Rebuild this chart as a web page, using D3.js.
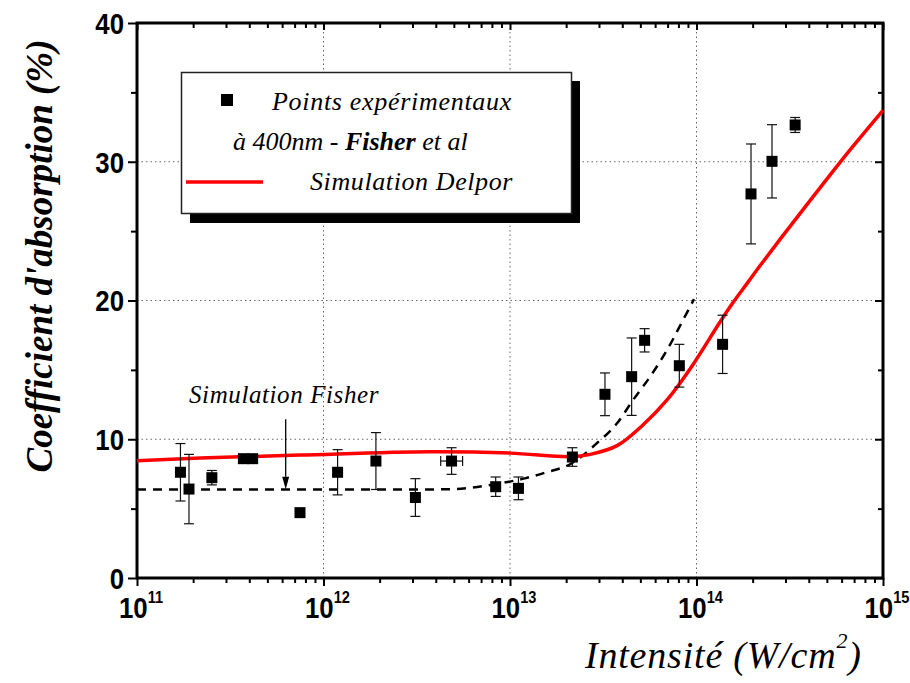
<!DOCTYPE html>
<html>
<head>
<meta charset="utf-8">
<script src="https://cdn.jsdelivr.net/npm/d3@7/dist/d3.min.js"></script>
<style>
  html, body { margin: 0; padding: 0; background: #fff; }
  svg { display: block; }
  .serif { font-family: "Liberation Serif", "DejaVu Serif", serif; font-style: italic; }
  .tick-lab { font-family: "Liberation Sans", Arial, sans-serif; font-weight: bold; }
</style>
</head>
<body>
<svg id="chart" width="910" height="683"></svg>
<script>
// Measured absorption (Fisher et al, 400 nm)
const intensity = [1.71e11, 1.90e11, 2.52e11, 3.72e11, 4.17e11, 7.48e11, 1.19e12, 1.91e12, 3.11e12, 4.86e12, 8.38e12, 1.11e13, 2.16e13, 3.23e13, 4.49e13, 5.27e13, 8.09e13, 1.38e14, 1.96e14, 2.54e14, 3.38e14];
const absorption = [7.62, 6.41, 7.23, 8.6, 8.6, 4.71, 7.62, 8.43, 5.80, 8.43, 6.58, 6.46, 8.72, 13.24, 14.51, 17.13, 15.30, 16.84, 27.68, 30.03, 32.65];
const absorptionErr = [2.07, 2.5, 0.52, 0, 0, 0, 1.63, 2.05, 1.36, 0.96, 0.7, 0.82, 0.67, 1.54, 2.79, 0.84, 1.54, 2.1, 3.6, 2.64, 0.54];
const intensityErrLow = [null, null, null, null, null, null, null, null, null, 4.25e12, null, null, null, null, null, null, null, null, null, null, null];
const intensityErrHigh = [null, null, null, null, null, null, null, null, null, 5.57e12, null, null, null, null, null, null, null, null, null, null, null];

// Delpor simulation
const delporIntensity = [1e11, 2.18e11, 7.48e11, 3.72e12, 1e13, 2.10e13, 2.69e13, 3.75e13, 5.16e13, 6.95e13, 9.23e13, 1.337e14, 1.57e14, 1.86e14, 2.19e14, 2.81e14, 4.23e14, 6.12e14, 1e15];
const delporAbs = [8.45, 8.65, 8.86, 9.1, 9.0, 8.74, 8.91, 9.54, 11.03, 12.83, 15.06, 18.45, 19.85, 21.2, 22.5, 24.42, 27.5, 30.25, 33.7];

// Fisher simulation
const fisherIntensity = [1e11, 7.48e11, 4.76e12, 6.11e12, 8.83e12, 1.20e13, 1.54e13, 2.10e13, 2.92e13, 3.75e13, 4.57e13, 5.64e13, 6.95e13, 8.47e13, 9.70e13];
const fisherAbs = [6.37, 6.37, 6.39, 6.5, 6.82, 7.18, 7.59, 8.2, 9.71, 11.15, 12.83, 14.51, 16.43, 18.59, 20.1];

// Axes
const xDomain = [1e11, 1e15];
const xMajorTicks = [1e11, 1e12, 1e13, 1e14, 1e15];
const xTickExponents = ["11", "12", "13", "14", "15"];
const yDomain = [0, 40];
const yMajorTicks = [0, 10, 20, 30, 40];
const yMinorTicks = [5, 15, 25, 35];

const legendLabels = ["Points expérimentaux", "Simulation Delpor"];

const W = 910, H = 683;
const margin = { left: 137, top: 23, right: 27, bottom: 105 };
const iw = W - margin.left - margin.right;
const ih = H - margin.top - margin.bottom;

const svg = d3.select("#chart");
const g = svg.append("g").attr("transform", `translate(${margin.left},${margin.top})`);

const x = d3.scaleLog().domain(xDomain).range([0, iw]);
const y = d3.scaleLinear().domain(yDomain).range([ih, 0]);

// minor log ticks (2..9 per decade)
const xMinorTicks = x.ticks().filter(v => xMajorTicks.indexOf(v) < 0);

// grid
const grid = g.append("g").attr("stroke", "#666").attr("stroke-width", 1).attr("stroke-dasharray", "1.5,3");
grid.selectAll("line.vx").data(xMajorTicks.slice(1, -1)).join("line")
  .attr("x1", d => x(d)).attr("x2", d => x(d)).attr("y1", 0).attr("y2", ih);
grid.selectAll("line.hy").data(yMajorTicks.slice(1, -1)).join("line")
  .attr("x1", 0).attr("x2", iw).attr("y1", d => y(d)).attr("y2", d => y(d));

// axes
const tickStyle = sel => {
  sel.select(".domain").remove();
  sel.selectAll("line").attr("stroke", "#000").attr("stroke-width", 2);
};
g.append("g").attr("transform", `translate(0,${ih})`)
  .call(d3.axisBottom(x).tickValues(xMajorTicks).tickSize(8).tickFormat(""))
  .call(tickStyle);
g.append("g").attr("transform", `translate(0,${ih})`)
  .call(d3.axisBottom(x).tickValues(xMinorTicks).tickSize(5).tickFormat(""))
  .call(tickStyle);
g.append("g")
  .call(d3.axisTop(x).tickValues(xMajorTicks).tickSize(-7).tickFormat(""))
  .call(tickStyle);
g.append("g")
  .call(d3.axisTop(x).tickValues(xMinorTicks).tickSize(-5).tickFormat(""))
  .call(tickStyle);
g.append("g")
  .call(d3.axisLeft(y).tickValues(yMajorTicks).tickSize(9).tickFormat(""))
  .call(tickStyle);
g.append("g")
  .call(d3.axisLeft(y).tickValues(yMinorTicks).tickSize(6).tickFormat(""))
  .call(tickStyle);
g.append("g").attr("transform", `translate(${iw},0)`)
  .call(d3.axisRight(y).tickValues(yMajorTicks).tickSize(-8).tickFormat(""))
  .call(tickStyle);
g.append("g").attr("transform", `translate(${iw},0)`)
  .call(d3.axisRight(y).tickValues(yMinorTicks).tickSize(-5).tickFormat(""))
  .call(tickStyle);

// frame
g.append("rect").attr("x", 0).attr("y", 0).attr("width", iw).attr("height", ih)
  .attr("fill", "none").attr("stroke", "#000").attr("stroke-width", 3);

// tick labels (narrowed bold sans)
const xl = g.append("g").attr("class", "tick-lab");
xMajorTicks.forEach((v, i) => {
  const t = xl.append("text")
    .attr("transform", `translate(${x(v) + 4},${ih + 40}) scale(0.86,1)`)
    .attr("text-anchor", "middle").attr("font-size", 30).attr("fill", "#000");
  t.append("tspan").text("10");
  t.append("tspan").attr("dy", -15).attr("font-size", 17).text(xTickExponents[i]);
});
g.append("g").attr("class", "tick-lab").selectAll("text").data(yMajorTicks).join("text")
  .attr("transform", d => `translate(-13,${y(d)}) scale(0.86,1)`).attr("dy", "0.36em")
  .attr("text-anchor", "end").attr("font-size", 30).text(d => d);

// simulation curves
const line = (xs, ys, curve) => d3.line().curve(curve)
  .x((d, i) => x(xs[i])).y((d, i) => y(ys[i]))(xs);
g.append("path").attr("d", line(fisherIntensity, fisherAbs, d3.curveMonotoneX))
  .attr("fill", "none").attr("stroke", "#000").attr("stroke-width", 2.5)
  .attr("stroke-dasharray", "9,7");
g.append("path").attr("d", line(delporIntensity, delporAbs, d3.curveCatmullRom.alpha(0.5)))
  .attr("fill", "none").attr("stroke", "#f00").attr("stroke-width", 3.5);

// error bars
const eb = g.append("g").attr("stroke", "#111").attr("stroke-width", 1.2);
intensity.forEach((v, i) => {
  const e = absorptionErr[i];
  if (e > 0) {
    const cx = x(v), y1 = y(absorption[i] + e), y2 = y(absorption[i] - e);
    eb.append("line").attr("x1", cx).attr("x2", cx).attr("y1", y1).attr("y2", y2);
    eb.append("line").attr("x1", cx - 5).attr("x2", cx + 5).attr("y1", y1).attr("y2", y1);
    eb.append("line").attr("x1", cx - 5).attr("x2", cx + 5).attr("y1", y2).attr("y2", y2);
  }
  if (intensityErrLow[i] != null) {
    const cy = y(absorption[i]), x1 = x(intensityErrLow[i]), x2 = x(intensityErrHigh[i]);
    eb.append("line").attr("x1", x1).attr("x2", x2).attr("y1", cy).attr("y2", cy);
    eb.append("line").attr("x1", x1).attr("x2", x1).attr("y1", cy - 5).attr("y2", cy + 5);
    eb.append("line").attr("x1", x2).attr("x2", x2).attr("y1", cy - 5).attr("y2", cy + 5);
  }
});

// points
const sq = 11;
g.append("g").selectAll("rect").data(intensity).join("rect")
  .attr("x", d => x(d) - sq / 2).attr("y", (d, i) => y(absorption[i]) - sq / 2)
  .attr("width", sq).attr("height", sq).attr("fill", "#000");

// annotation "Simulation Fisher" with arrow
const arrowX = x(6.27e11);
g.append("text").attr("class", "serif").attr("x", x(1.9e11)).attr("y", y(12.6))
  .attr("font-size", 25).attr("letter-spacing", 0.6).text("Simulation Fisher");
g.append("line").attr("x1", arrowX).attr("x2", arrowX).attr("y1", y(11.45)).attr("y2", y(7.3))
  .attr("stroke", "#000").attr("stroke-width", 1.3);
g.append("path")
  .attr("d", `M${arrowX - 3.5},${y(7.3)} L${arrowX + 3.5},${y(7.3)} L${arrowX},${y(6.4)} Z`)
  .attr("fill", "#000");

// legend
const lg = svg.append("g");
lg.append("rect").attr("x", 190).attr("y", 81).attr("width", 390).attr("height", 142).attr("fill", "#000");
lg.append("rect").attr("x", 181.5).attr("y", 72.5).attr("width", 390).attr("height", 141)
  .attr("fill", "#fff").attr("stroke", "#222").attr("stroke-width", 1.5);
lg.append("rect").attr("x", 221).attr("y", 94).attr("width", 12).attr("height", 12).attr("fill", "#000");
lg.append("text").attr("class", "serif").attr("x", 272).attr("y", 110).attr("font-size", 26)
  .attr("letter-spacing", 0.7).text(legendLabels[0]);
const l2 = lg.append("text").attr("class", "serif").attr("x", 233).attr("y", 150).attr("font-size", 26);
l2.append("tspan").text("à 400nm - ");
l2.append("tspan").attr("font-weight", "bold").text("Fisher");
l2.append("tspan").text(" et al");
lg.append("line").attr("x1", 186).attr("x2", 263).attr("y1", 182).attr("y2", 182)
  .attr("stroke", "#f00").attr("stroke-width", 3.5);
lg.append("text").attr("class", "serif").attr("x", 310).attr("y", 190).attr("font-size", 26)
  .attr("letter-spacing", 0.6).text(legendLabels[1]);

// axis titles
svg.append("text").attr("class", "serif")
  .attr("transform", "translate(52,256) rotate(-90)")
  .attr("text-anchor", "middle").attr("font-size", 37).attr("font-weight", "bold")
  .text("Coefficient d'absorption (%)");
const xt = svg.append("text").attr("class", "serif").attr("x", 585).attr("y", 668)
  .attr("font-size", 38).attr("letter-spacing", 0.8);
xt.append("tspan").text("Intensité (W/cm");
xt.append("tspan").attr("dy", -20).attr("font-size", 22).text("2");
xt.append("tspan").attr("dy", 20).text(")");
</script>
</body>
</html>
